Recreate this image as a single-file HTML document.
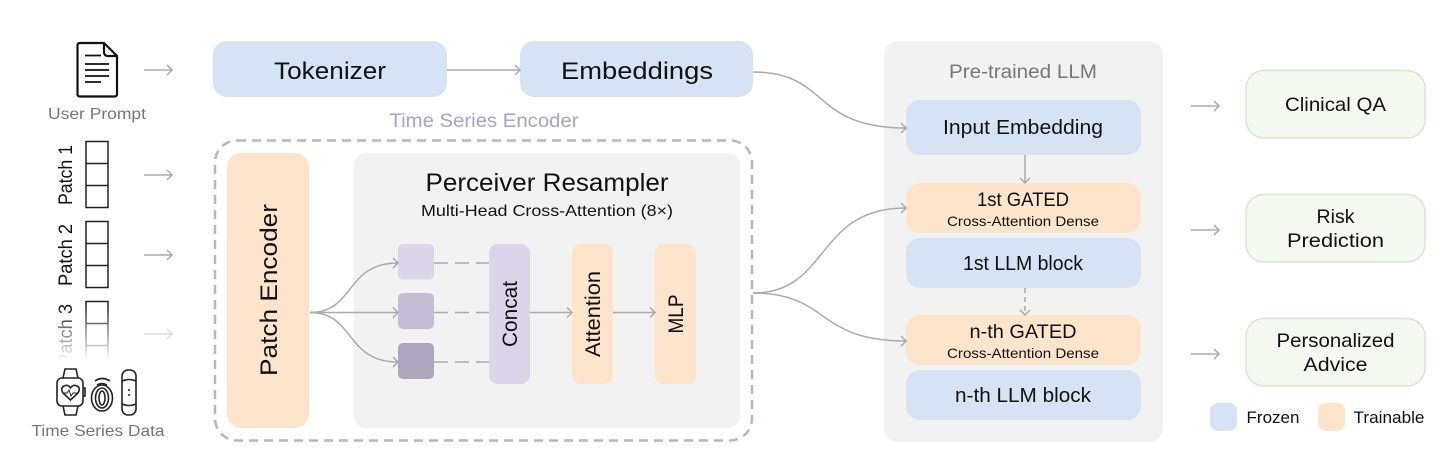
<!DOCTYPE html>
<html><head><meta charset="utf-8"><style>
html,body{margin:0;padding:0;background:#fff}
svg{display:block}
text{font-family:"Liberation Sans",sans-serif;fill:#111;text-anchor:middle}
.l{fill:none;stroke:#aaa;stroke-width:1.5}
.k{fill:none;stroke:#222;stroke-width:1.5}
</style></head><body>
<svg width="1456" height="466" viewBox="0 0 1456 466" xmlns="http://www.w3.org/2000/svg">
<defs>
<marker id="a" markerWidth="10" markerHeight="12" refX="8" refY="6" orient="auto" markerUnits="userSpaceOnUse"><path d="M3 1 L8 6 L3 11" fill="none" stroke="#aaa" stroke-width="1.5"/></marker>
<marker id="af" markerWidth="10" markerHeight="12" refX="8" refY="6" orient="auto" markerUnits="userSpaceOnUse"><path d="M3 1 L8 6 L3 11" fill="none" stroke="#ddd" stroke-width="1.5"/></marker>
<linearGradient id="fade" x1="0" y1="0" x2="0" y2="1"><stop offset="0" stop-color="#fff" stop-opacity="0"/><stop offset="0.85" stop-color="#fff"/><stop offset="1" stop-color="#fff"/></linearGradient>
</defs>

<!-- left: document -->
<path d="M80 43H104L117 56V94Q117 96.500 114.500 96.500H80Q77.500 96.500 77.500 94V45.500Q77.500 43 80 43Z M104 43V52Q104 56 108 56H117" fill="none" stroke="#111" stroke-width="2.200"/>
<path d="M85 55.500H101M85 64H109M85 70H109M85 76H109M85 82H101" stroke="#111" stroke-width="1.800" fill="none"/>
<text x="97" y="119" font-size="16" style="fill:#777" textLength="98" lengthAdjust="spacingAndGlyphs">User Prompt</text>

<!-- arrows left -->
<path class="l" marker-end="url(#a)" d="M144 70H172"/>
<path class="l" marker-end="url(#a)" d="M144 175H172"/>
<path class="l" marker-end="url(#a)" d="M144 255H172"/>
<path fill="none" stroke="#ddd" stroke-width="1.500" marker-end="url(#af)" d="M144 334H172"/>

<!-- patches -->
<rect class="k" x="86" y="141.500" width="22" height="66"/><path class="k" d="M86 163.500H108M86 185.500H108"/>
<rect class="k" x="86" y="221.500" width="22" height="66"/><path class="k" d="M86 243.500H108M86 265.500H108"/>
<rect class="k" x="86" y="301.500" width="22" height="66"/><path class="k" d="M86 323.500H108M86 345.500H108"/>
<text transform="translate(72 175) rotate(-90)" font-size="19" textLength="60" lengthAdjust="spacingAndGlyphs">Patch 1</text>
<text transform="translate(72 255) rotate(-90)" font-size="19" textLength="62" lengthAdjust="spacingAndGlyphs">Patch 2</text>
<text transform="translate(72 335) rotate(-90)" font-size="19" textLength="62" lengthAdjust="spacingAndGlyphs">Patch 3</text>
<rect x="50" y="305" width="70" height="66" fill="url(#fade)"/>

<!-- wearables -->
<g fill="none" stroke="#222" stroke-width="1.600">
<path d="M63 378L65 369H76L78 378M63 406L65 415H76L78 406"/>
<rect x="57" y="378" width="26" height="28" rx="5"/>
<path d="M83 388H85V396H83"/>
<path d="M70.500 400L63 393Q60 388 64 386Q68 384 70.500 388Q73 384 77 386Q81 388 78 393Z"/>
<path d="M63 393H67L69 390L71 396L73 393H78" stroke-width="1"/>
<ellipse cx="102" cy="398" rx="10.500" ry="13"/><ellipse cx="102" cy="398" rx="6.500" ry="10"/><ellipse cx="102" cy="398" rx="3" ry="7"/>
<path d="M95 381Q102 376 110 381M97 385Q102 382 107 385"/>
<rect x="122" y="370" width="14" height="45" rx="6"/>
<path d="M122 381Q129 378 136 381M122 404Q129 407 136 404"/>
</g>
<circle cx="129" cy="390" r="1" fill="#222"/><circle cx="129" cy="395" r="1" fill="#222"/>
<text x="98" y="436" font-size="16" style="fill:#777" textLength="133" lengthAdjust="spacingAndGlyphs">Time Series  Data</text>

<!-- top row -->
<rect x="213" y="41" width="234" height="56" rx="14" fill="#d6e3f5"/>
<rect x="520" y="41" width="233" height="56" rx="14" fill="#d6e3f5"/>
<text x="330" y="79" font-size="24" textLength="112" lengthAdjust="spacingAndGlyphs">Tokenizer</text>
<text x="637" y="79" font-size="24" textLength="152" lengthAdjust="spacingAndGlyphs">Embeddings</text>

<!-- encoder -->
<text x="484" y="127" font-size="19" style="fill:#a9a3c4" textLength="189" lengthAdjust="spacingAndGlyphs">Time Series Encoder</text>
<rect x="215" y="140.500" width="537" height="300" rx="22" fill="none" stroke="#b9b2d0" stroke-width="2.500" stroke-dasharray="9 6"/>
<rect x="227" y="153" width="82" height="275" rx="14" fill="#fde5cc"/>
<text transform="translate(277 290) rotate(-90)" font-size="24" textLength="172" lengthAdjust="spacingAndGlyphs">Patch Encoder</text>
<rect x="354" y="153" width="386" height="275" rx="12" fill="#f2f2f2"/>
<text x="547" y="191" font-size="25" textLength="243" lengthAdjust="spacingAndGlyphs">Perceiver Resampler</text>
<text x="547" y="216" font-size="16" textLength="252" lengthAdjust="spacingAndGlyphs">Multi-Head Cross-Attention (8×)</text>

<rect x="398" y="244" width="36" height="35.500" rx="5" fill="#dcd5ea"/>
<rect x="398" y="293" width="36" height="36" rx="5" fill="#c5bdd6"/>
<rect x="398" y="343" width="36" height="36" rx="5" fill="#aea6bf"/>
<path d="M434 263H489M434 312.500H489M434 362H489" fill="none" stroke="#aaa" stroke-width="1.500" stroke-dasharray="14 7"/>
<rect x="489" y="244" width="41" height="140" rx="9" fill="#dcd5ea"/>
<rect x="572" y="244" width="41" height="140" rx="9" fill="#fde5cc"/>
<rect x="655" y="244" width="41" height="140" rx="9" fill="#fde5cc"/>
<text transform="translate(517 314) rotate(-90)" font-size="21" textLength="66" lengthAdjust="spacingAndGlyphs">Concat</text>
<text transform="translate(600 314) rotate(-90)" font-size="21" textLength="86" lengthAdjust="spacingAndGlyphs">Attention</text>
<text transform="translate(683 314) rotate(-90)" font-size="21" textLength="39" lengthAdjust="spacingAndGlyphs">MLP</text>

<!-- LLM -->
<rect x="884" y="41" width="279" height="401" rx="14" fill="#f2f2f2"/>
<text x="1023" y="78" font-size="19" style="fill:#777" textLength="148" lengthAdjust="spacingAndGlyphs">Pre-trained LLM</text>
<rect x="906" y="100" width="235" height="55" rx="14" fill="#d6e3f5"/>
<rect x="906" y="183" width="235" height="50" rx="14" fill="#fde5cc"/>
<rect x="906" y="238" width="235" height="50" rx="14" fill="#d6e3f5"/>
<rect x="906" y="315" width="235" height="50" rx="14" fill="#fde5cc"/>
<rect x="906" y="370" width="235" height="50" rx="14" fill="#d6e3f5"/>
<text x="1023" y="134" font-size="20" textLength="160" lengthAdjust="spacingAndGlyphs">Input Embedding</text>
<text x="1023" y="206" font-size="19" textLength="92" lengthAdjust="spacingAndGlyphs">1st GATED</text>
<text x="1023" y="226" font-size="14" textLength="152" lengthAdjust="spacingAndGlyphs">Cross-Attention Dense</text>
<text x="1023" y="270" font-size="20" textLength="120" lengthAdjust="spacingAndGlyphs">1st LLM block</text>
<text x="1023" y="338" font-size="19" textLength="107" lengthAdjust="spacingAndGlyphs">n-th GATED</text>
<text x="1023" y="358" font-size="14" textLength="152" lengthAdjust="spacingAndGlyphs">Cross-Attention Dense</text>
<text x="1023" y="402" font-size="20" textLength="136" lengthAdjust="spacingAndGlyphs">n-th LLM block</text>

<!-- outputs -->
<path class="l" marker-end="url(#a)" d="M1191 106H1219"/>
<path class="l" marker-end="url(#a)" d="M1191 230H1219"/>
<path class="l" marker-end="url(#a)" d="M1191 354H1219"/>
<g fill="#f4f9f2" stroke="#d8e6cd" stroke-width="1.500">
<rect x="1246" y="70.500" width="179" height="67.500" rx="18"/>
<rect x="1246" y="194.500" width="179" height="67.500" rx="18"/>
<rect x="1246" y="318.500" width="179" height="67.500" rx="18"/>
</g>
<text x="1335.500" y="111" font-size="19.500" textLength="101" lengthAdjust="spacingAndGlyphs">Clinical QA</text>
<text x="1335.500" y="223" font-size="19.500" textLength="38" lengthAdjust="spacingAndGlyphs">Risk</text>
<text x="1335.500" y="247" font-size="19.500" textLength="97" lengthAdjust="spacingAndGlyphs">Prediction</text>
<text x="1335.500" y="347" font-size="19.500" textLength="118" lengthAdjust="spacingAndGlyphs">Personalized</text>
<text x="1335.500" y="371" font-size="19.500" textLength="64" lengthAdjust="spacingAndGlyphs">Advice</text>

<!-- legend -->
<rect x="1210" y="403" width="27" height="28" rx="8" fill="#d6e3f5"/>
<rect x="1318" y="403" width="27" height="28" rx="8" fill="#fde5cc"/>
<text x="1273" y="423" font-size="17" textLength="53" lengthAdjust="spacingAndGlyphs">Frozen</text>
<text x="1389" y="423" font-size="17" textLength="71" lengthAdjust="spacingAndGlyphs">Trainable</text>

<!-- connectors on top of boxes -->
<path class="l" marker-end="url(#a)" d="M447 70H520"/>
<path class="l" marker-end="url(#a)" d="M753 72C830 72 810 128 906 128"/>
<path class="l" marker-end="url(#a)" d="M530 312.500H572"/>
<path class="l" marker-end="url(#a)" d="M613 312.500H655"/>
<path class="l" marker-end="url(#a)" d="M310 312.500C355 312.500 345 263 398 263"/>
<path class="l" marker-end="url(#a)" d="M310 312.500H398"/>
<path class="l" marker-end="url(#a)" d="M310 312.500C355 312.500 345 362 398 362"/>
<path class="l" marker-end="url(#a)" d="M753 293C830 293 815 208 906 208"/>
<path class="l" marker-end="url(#a)" d="M753 293C830 293 815 341 906 341"/>
<path class="l" marker-end="url(#a)" d="M1025 155V183"/>
<path fill="none" stroke="#aaa" stroke-width="1.500" stroke-dasharray="5 4" marker-end="url(#a)" d="M1025 288V315"/>
</svg>
</body></html>
